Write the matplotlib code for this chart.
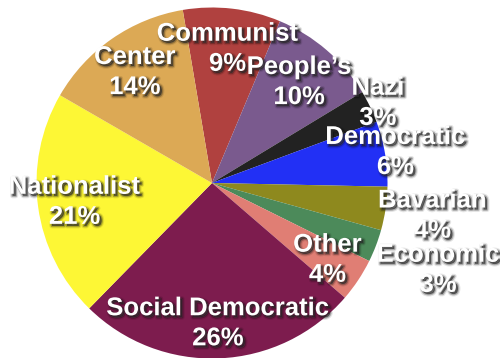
import numpy as np
import matplotlib
matplotlib.use("Agg")
import matplotlib.pyplot as plt
import matplotlib.patheffects as pe

parties = ["Communist", "People\u2019s", "Nazi", "Democratic", "Bavarian",
           "Economic", "Other", "Social Democratic", "Nationalist", "Center"]
shares = [9, 10, 3, 6, 4, 3, 4, 26, 21, 14]
colors = ["#B0413F", "#7A5A8E", "#222222", "#2230F5", "#8E891E",
          "#4C8A5A", "#E07E74", "#7D1C4E", "#FDF735", "#DCA955"]

# how far out each label sits, in pie radii
label_r = [0.77, 0.76, 1.05, 1.06, 1.27, 1.38, 0.79, 0.80, 0.79, 0.77]

W, H = 500, 358
fig = plt.figure(figsize=(W / 100, H / 100), dpi=100)
cx, cy, r = 212, 358 - 183, 175.5
ax = fig.add_axes([(cx - r) / W, (cy - r) / H, 2 * r / W, 2 * r / H])

wedges, _ = ax.pie(shares, colors=colors, startangle=99.6, counterclock=False,
                   wedgeprops=dict(linewidth=0))
ax.set_xlim(-1, 1)
ax.set_ylim(-1, 1)
ax.set_aspect("equal")
ax.axis("off")

shadow = [
    pe.Stroke(linewidth=3.5, foreground="black", alpha=0.1, offset=(1.5, -1.5)),
    pe.Stroke(linewidth=1.8, foreground="black", alpha=0.25, offset=(1.5, -1.5)),
    pe.withSimplePatchShadow(offset=(1.5, -1.5), shadow_rgbFace="black", alpha=0.55),
]

for w, name, pct, rr in zip(wedges, parties, shares, label_r):
    mid = np.deg2rad((w.theta1 + w.theta2) / 2)
    ax.text(rr * np.cos(mid), rr * np.sin(mid), f"{name}\n{pct}%",
            ha="center", va="center", color="white", fontsize=18.5,
            fontweight="bold", family="Liberation Sans", linespacing=1.32,
            path_effects=shadow, clip_on=False)

fig.savefig("out.png", dpi=100, facecolor="white")
